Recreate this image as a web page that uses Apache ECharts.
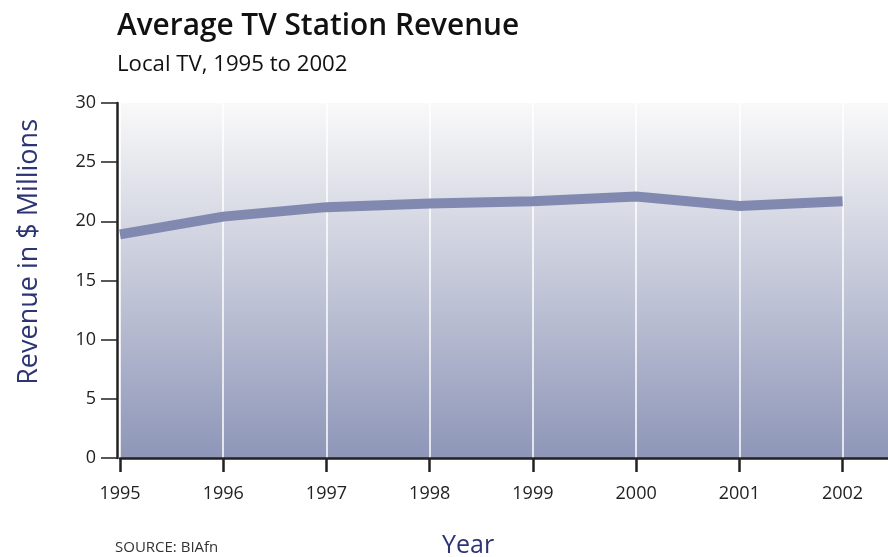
<!DOCTYPE html>
<html><head><meta charset="utf-8">
<script src="https://cdn.jsdelivr.net/npm/echarts@6/dist/echarts.min.js"></script>
<style>html,body{margin:0;padding:0;background:#fff}#c{width:888px;height:557px}</style>
</head><body><div id="c"></div>
<script>
const years = [1995, 1996, 1997, 1998, 1999, 2000, 2001, 2002];
const revenue = [18.9, 20.4, 21.2, 21.5, 21.7, 22.1, 21.3, 21.7];
const yTicks = [0, 5, 10, 15, 20, 25, 30];

const chart = echarts.init(document.getElementById('c'), null, {renderer: 'canvas'});
const font = '"Open Sans", "Noto Sans", sans-serif';
chart.setOption({
  animation: false,
  title: [
    {text: 'Average TV Station Revenue', left: 117, top: 12, padding: 0,
     textStyle: {fontFamily: font, fontSize: 29.8, fontWeight: 600, color: '#111'}},
    {text: 'Local TV, 1995 to 2002', left: 117, top: 54, padding: 0,
     textStyle: {fontFamily: font, fontSize: 22.2, fontWeight: 'normal', color: '#111'}},
    {text: 'SOURCE: BIAfn', left: 115, top: 540, padding: 0,
     textStyle: {fontFamily: font, fontSize: 15, fontWeight: 'normal', color: '#333'}},
    {text: 'Year', left: 442, top: 533, padding: 0,
     textStyle: {fontFamily: font, fontSize: 25, fontWeight: 'normal', color: '#2d3473'}}
  ],
  graphic: [{
    type: 'text', left: 16, top: 119, rotation: Math.PI / 2, silent: true,
    style: {text: 'Revenue in $ Millions', fontFamily: font, fontSize: 27, fill: '#2d3473'}
  }],
  grid: {left: 120, right: 0, top: 103, bottom: 99, show: true, borderWidth: 0,
    backgroundColor: new echarts.graphic.LinearGradient(0, 0, 0, 1, [
      {offset: 0, color: '#f9f9f9'},
      {offset: 1, color: '#8e96b8'}
    ])},
  xAxis: {
    type: 'value', min: 1995, max: 2002.44, interval: 1,
    axisLine: {show: true, lineStyle: {color: '#222', width: 2.5}},
    axisTick: {show: true, length: 14, customValues: years, lineStyle: {color: '#222', width: 2.5}},
    axisLabel: {fontFamily: font, fontSize: 18, color: '#222', margin: 27, customValues: years,
      formatter: v => String(v)},
    splitLine: {show: true, lineStyle: {color: '#ffffff', width: 1.5}}
  },
  yAxis: {
    type: 'value', min: 0, max: 30, interval: 5, offset: 3,
    axisLine: {show: true, lineStyle: {color: '#222', width: 2.5}},
    axisTick: {show: true, length: 16, lineStyle: {color: '#222', width: 1.5}},
    axisLabel: {fontFamily: font, fontSize: 18, color: '#222', margin: 21,
      formatter: v => yTicks.includes(v) ? String(v) : ''},
    splitLine: {show: false}
  },
  series: [{
    type: 'line',
    data: years.map((y, i) => [y, revenue[i]]),
    symbol: 'none',
    lineStyle: {color: '#8289b0', width: 10, join: 'miter'}
  }]
});
</script></body></html>
